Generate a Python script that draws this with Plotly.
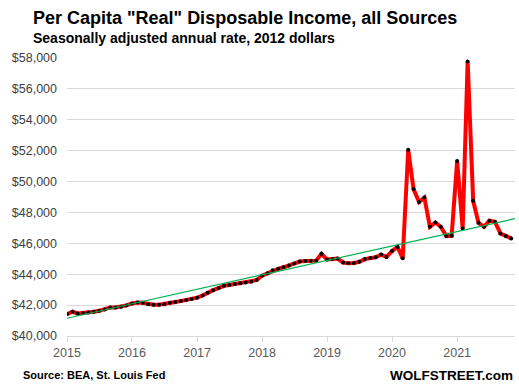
import plotly.graph_objects as go
import pandas as pd

# Monthly per-capita real disposable income (2012 dollars), Jan 2015 - Nov 2021
income_2015 = [41420, 41570, 41460, 41480, 41520, 41570, 41630, 41720, 41850, 41850, 41890, 41980]
income_2016 = [42110, 42170, 42150, 42060, 42020, 42020, 42060, 42150, 42200, 42260, 42330, 42400]
income_2017 = [42480, 42620, 42800, 42970, 43100, 43250, 43300, 43360, 43410, 43460, 43520, 43620]
income_2018 = [43900, 44060, 44250, 44350, 44450, 44560, 44700, 44820, 44850, 44870, 44880, 45320]
income_2019 = [44950, 44980, 45010, 44760, 44710, 44730, 44800, 44980, 45050, 45100, 45270, 45120]
income_2020 = [45500, 45770, 45030, 52060, 49510, 48670, 48960, 47070, 47350, 47070, 46470, 46490]
income_2021 = [51330, 46960, 57780, 48750, 47330, 47070, 47460, 47400, 46640, 46470, 46320]

values = income_2015 + income_2016 + income_2017 + income_2018 + income_2019 + income_2020 + income_2021
dates = pd.date_range("2015-01-01", periods=len(values), freq="MS")

trend_dates = ["2015-01-01", "2021-12-01"]
trend_values = [41150, 47620]

y_ticks = [40000, 42000, 44000, 46000, 48000, 50000, 52000, 54000, 56000, 58000]
y_tick_labels = ["$" + format(v, ",") for v in y_ticks]
x_ticks = ["2015-01-01", "2016-01-01", "2017-01-01", "2018-01-01", "2019-01-01", "2020-01-01", "2021-01-01"]
x_tick_labels = ["2015", "2016", "2017", "2018", "2019", "2020", "2021"]

fig = go.Figure()
fig.add_trace(go.Scatter(
    x=dates, y=values, mode="lines+markers",
    line=dict(color="#FF0000", width=4),
    marker=dict(color="#000000", size=4),
    showlegend=False, hoverinfo="x+y"))
fig.add_trace(go.Scatter(
    x=trend_dates, y=trend_values, mode="lines",
    line=dict(color="#00B050", width=1.2),
    showlegend=False, hoverinfo="skip"))

fig.update_layout(
    width=519, height=389,
    margin=dict(l=67, r=4, t=58, b=53),
    paper_bgcolor="white", plot_bgcolor="white",
    font=dict(family="Liberation Sans, Arial, sans-serif", color="#595959"),
    xaxis=dict(
        type="date", range=["2015-01-01", "2021-11-22"],
        tickvals=x_ticks, ticktext=x_tick_labels,
        showgrid=False, zeroline=False, automargin=False,
        showline=True, linecolor="#D9D9D9", linewidth=1,
        ticks="outside", ticklen=5, tickcolor="#D9D9D9",
        tickfont=dict(size=12.5, color="#595959"),
    ),
    yaxis=dict(
        range=[40000, 58000], tickvals=y_ticks, ticktext=y_tick_labels,
        showgrid=True, gridcolor="#D9D9D9", gridwidth=1,
        zeroline=False, showline=False, ticks="", automargin=False,
        ticklabelstandoff=9,
        tickfont=dict(size=12.5, color="#404040"),
    ),
    annotations=[
        dict(text="<b>Per Capita \"Real\" Disposable Income, all Sources</b>",
             xref="paper", yref="paper", x=-0.081, y=1.0, yanchor="bottom", xanchor="left",
             yshift=28, showarrow=False, font=dict(size=18, color="#000000")),
        dict(text="<b>Seasonally adjusted annual rate, 2012 dollars</b>",
             xref="paper", yref="paper", x=-0.081, y=1.0, yanchor="bottom", xanchor="left",
             yshift=10, showarrow=False, font=dict(size=14, color="#000000")),
        dict(text="<b>Source: BEA, St. Louis Fed</b>",
             xref="paper", yref="paper", x=-0.103, y=0, yanchor="top", xanchor="left",
             yshift=-31, showarrow=False, font=dict(size=11, color="#000000")),
        dict(text="<b>WOLFSTREET.com</b>",
             xref="paper", yref="paper", x=1.0, y=0, yanchor="top", xanchor="right",
             yshift=-30, showarrow=False, font=dict(size=13.5, color="#000000")),
    ],
)

fig.write_html("out.html", config={"displayModeBar": False},
               post_script="document.body.style.margin='0';document.body.style.padding='0';")
